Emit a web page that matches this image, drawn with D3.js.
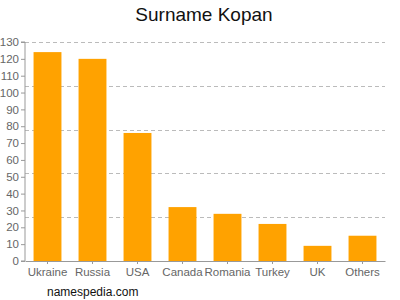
<!DOCTYPE html>
<html>
<head>
<meta charset="utf-8">
<script src="https://cdn.jsdelivr.net/npm/d3@7"></script>
<style>
  body { margin: 0; background: #fff; }
  svg { font-family: "Liberation Sans", Arial, sans-serif; }
</style>
</head>
<body>
<svg width="400" height="300"></svg>
<script>
const countries = ['Ukraine', 'Russia', 'USA', 'Canada', 'Romania', 'Turkey', 'UK', 'Others'];
const counts = [124, 120, 76, 32, 28, 22, 9, 15];
const yTicks = d3.range(0, 131, 10);
const gridValues = [26, 52, 78, 104, 130];

const svg = d3.select('svg');
const plotLeft = 25, plotRight = 385, plotTop = 42, plotBottom = 261;

const x = d3.scaleBand()
  .domain(countries)
  .range([plotLeft, plotRight])
  .paddingInner(0.38)
  .paddingOuter(0.19);

const y = d3.scaleLinear()
  .domain([0, 130])
  .range([plotBottom, plotTop]);

// dashed grid
svg.append('g')
  .selectAll('line')
  .data(gridValues)
  .enter().append('line')
    .attr('x1', plotLeft)
    .attr('x2', plotRight)
    .attr('y1', d => Math.round(y(d)) + 0.5)
    .attr('y2', d => Math.round(y(d)) + 0.5)
    .attr('stroke', '#bbb')
    .attr('stroke-dasharray', '4,3');

svg.append('g')
  .selectAll('rect')
  .data(countries)
  .enter().append('rect')
    .attr('x', d => x(d))
    .attr('width', x.bandwidth())
    .attr('y', (d, i) => y(counts[i]))
    .attr('height', (d, i) => plotBottom - y(counts[i]))
    .attr('fill', '#ffa200');

const yAxis = svg.append('g')
  .attr('transform', `translate(${plotLeft},0)`)
  .call(d3.axisLeft(y).tickValues(yTicks).tickSize(4).tickPadding(2));

const xAxis = svg.append('g')
  .attr('transform', `translate(0,${plotBottom})`)
  .call(d3.axisBottom(x).tickSize(3).tickPadding(4).tickSizeOuter(0));

[yAxis, xAxis].forEach(a => {
  a.select('.domain').attr('stroke', '#999');
  a.selectAll('.tick line').attr('stroke', '#999');
  a.selectAll('.tick text')
    .attr('fill', '#666')
    .style('font-size', '11.5px')
    .style('font-family', '"Liberation Sans", Arial, sans-serif');
});
yAxis.select('.domain').attr('d', `M-4,${plotTop}H0V${plotBottom}H-4`);

svg.append('text')
  .attr('x', 204)
  .attr('y', 21)
  .attr('text-anchor', 'middle')
  .style('font-size', '19px')
  .attr('fill', '#111')
  .text('Surname Kopan');

svg.append('text')
  .attr('x', 47)
  .attr('y', 296)
  .style('font-size', '12px')
  .attr('fill', '#111')
  .text('namespedia.com');
</script>
</body>
</html>
